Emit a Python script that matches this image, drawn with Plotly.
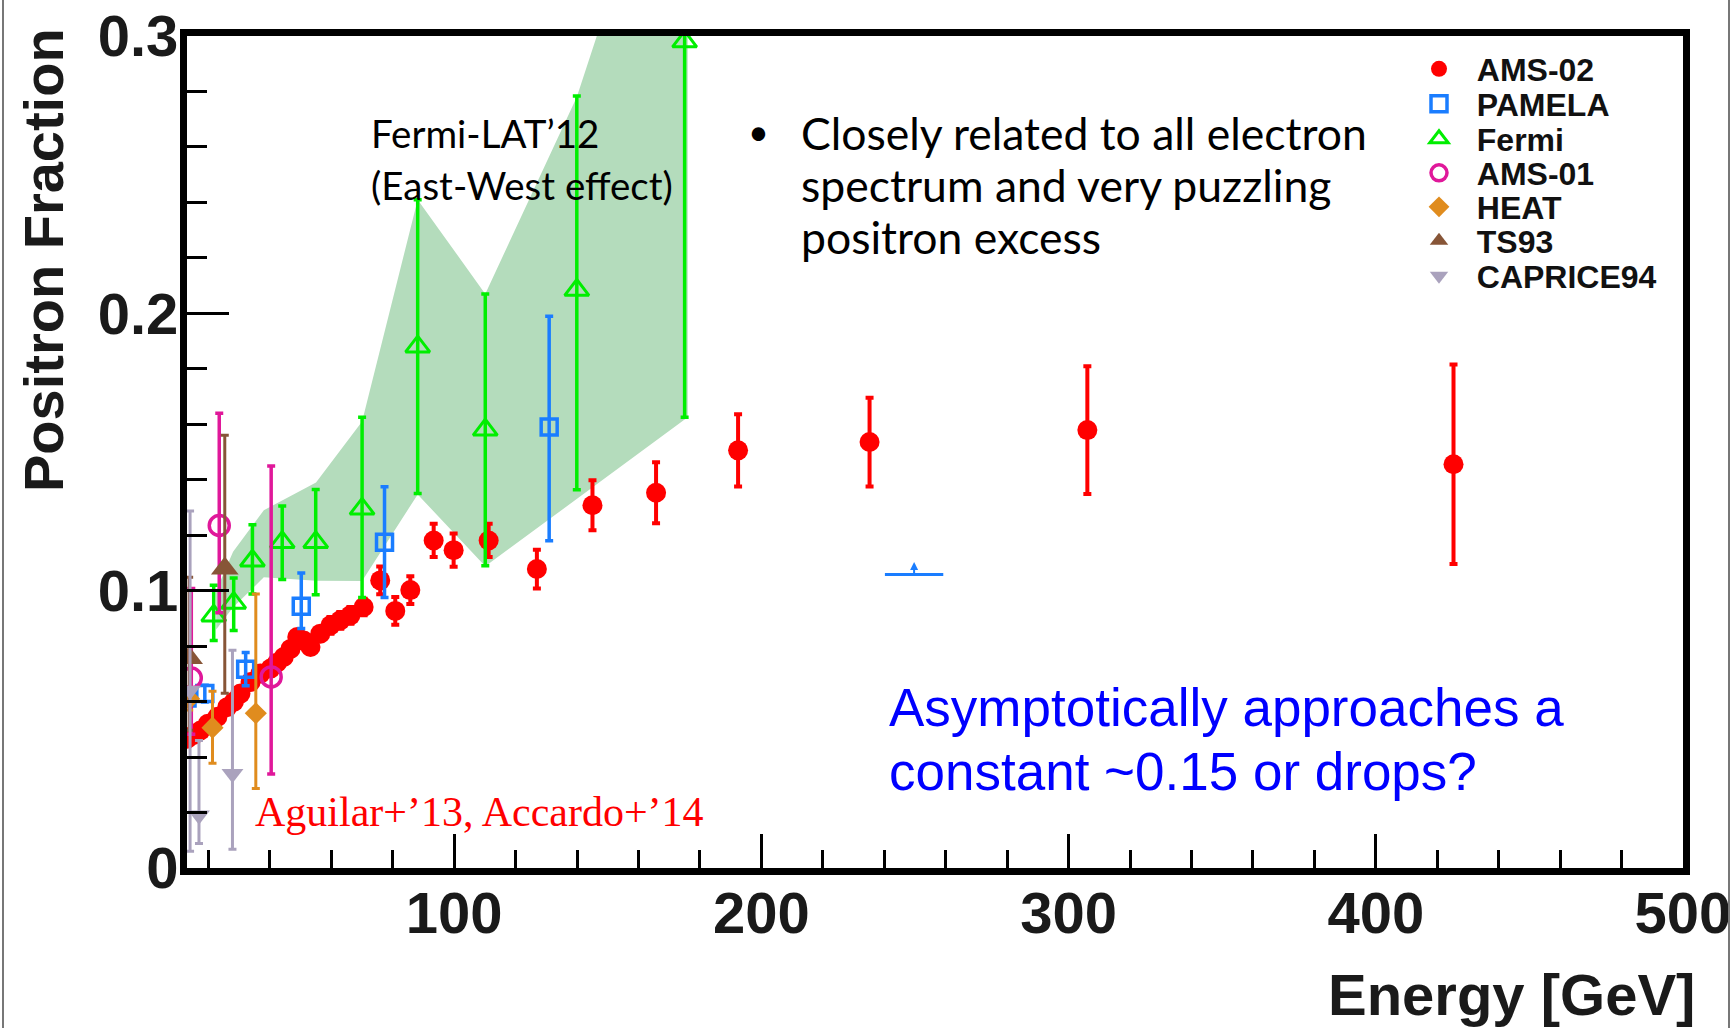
import plotly.graph_objects as go

# ---------------- data ----------------
ams02_E = [13.1, 15.2, 17.4, 19.8, 22.9, 26.1, 28.3, 30.4, 33.7, 36.9, 40.2, 42.3, 44.5, 46.7,
           48.9, 51.0, 53.2, 56.4, 59.7, 62.9, 66.2, 70.5, 75.9, 80.8, 85.7, 93.3, 99.8, 111.2,
           126.9, 145.0, 165.7, 192.4, 235.2, 306.1, 425.3]
ams02_y = [0.0466, 0.048, 0.0496, 0.052, 0.0545, 0.058, 0.060, 0.0629, 0.0671, 0.0701, 0.0719,
           0.074, 0.0761, 0.079, 0.0833, 0.082, 0.0797, 0.0845, 0.0875, 0.0893, 0.0911, 0.0941,
           0.1037, 0.0927, 0.1002, 0.1181, 0.1146, 0.1181, 0.1078, 0.1308, 0.1353, 0.1506,
           0.1536, 0.1579, 0.1456]
ams02_err = [0.002, 0.002, 0.002, 0.002, 0.002, 0.002, 0.002, 0.002, 0.002, 0.002, 0.002,
             0.002, 0.002, 0.002, 0.002, 0.002, 0.002, 0.002, 0.003, 0.003, 0.003, 0.003,
             0.005, 0.005, 0.005, 0.006, 0.006, 0.006, 0.007, 0.009, 0.011, 0.013, 0.016,
             0.023, 0.036]

pamela_E = [13.0, 18.8, 32.1, 50.2, 77.3, 130.9]
pamela_y = [0.0613, 0.0629, 0.0717, 0.0944, 0.1175, 0.159]
pamela_up = [0.003, 0.003, 0.006, 0.012, 0.020, 0.040]
pamela_dn = [0.003, 0.003, 0.006, 0.008, 0.020, 0.041]
pamela_limit_E = [249.7]
pamela_limit_y = [0.1058]
pamela_limit_halfwidth = [9.5]

fermi_E = [21.7, 28.2, 34.3, 44.0, 54.9, 70.0, 88.1, 110.1, 139.9, 175.0]
fermi_y = [0.091, 0.0956, 0.1108, 0.1175, 0.1175, 0.1295, 0.188, 0.158, 0.2084, 0.298]
fermi_up = [0.011, 0.009, 0.013, 0.013, 0.019, 0.033, 0.053, 0.049, 0.070, 0.060]
fermi_dn = [0.009, 0.010, 0.012, 0.0135, 0.019, 0.032, 0.053, 0.049, 0.072, 0.1355]

band_E = [22.5, 28.0, 38.0, 55.0, 70.0, 88.1, 110.1, 139.9, 176.0,
          176.0, 110.1, 88.1, 70.0, 55.0, 38.0, 28.0, 22.5]
band_y = [0.100, 0.114, 0.129, 0.139, 0.161, 0.241, 0.207, 0.278, 0.40,
          0.1625, 0.1088, 0.1347, 0.1035, 0.1036, 0.1048, 0.094, 0.086]

ams01_E = [14.4, 23.5, 40.4]
ams01_y = [0.0685, 0.1235, 0.0689]
ams01_up = [0.0323, 0.0405, 0.0761]
ams01_dn = [0.0203, 0.0315, 0.035]

heat_E = [13.7, 21.3, 35.4]
heat_y = [0.061, 0.0506, 0.0558]
heat_up = [0.004, 0.0131, 0.043]
heat_dn = [0.004, 0.0128, 0.0271]

ts93_E = [13.7, 25.3]
ts93_y = [0.0757, 0.108]
ts93_up = [0.0291, 0.048]
ts93_dn = [0.026, 0.045]

caprice_E = [14.0, 16.9, 27.8]
caprice_y = [0.064, 0.019, 0.034]
caprice_up = [0.0647, 0.027, 0.0445]
caprice_dn = [0.058, 0.0102, 0.0272]

series_names = ["AMS-02", "PAMELA", "Fermi", "AMS-01", "HEAT", "TS93", "CAPRICE94"]

fermi_note = ["Fermi-LAT’12", "(East-West effect)"]
bullet_lines = ["Closely related to all electron", "spectrum and very puzzling",
                "positron excess"]
question_lines = ["Asymptotically approaches a", "constant ~0.15 or drops?"]
refs_note = "Aguilar+’13, Accardo+’14"

# ---------------- styles ----------------
RED = "#ff0000"
BLUE = "#1a7dff"
GREEN = "#00ee00"
MAGENTA = "#e0189a"
ORANGE = "#e08c1e"
BROWN = "#875537"
GREY = "#aaa2bd"
BAND = "#b4dcbc"

BOLD_SANS = "Liberation Sans, Arial"
INK = "#1a1a1a"

def err(up, dn, color, th=3.5, w=4):
    return dict(type="data", symmetric=False, array=up, arrayminus=dn,
                color=color, thickness=th, width=w)

PAD = "\u00a0\u00a0"   # small gap between legend symbol and text

fig = go.Figure()

fig.add_trace(go.Scatter(x=band_E, y=band_y, fill="toself", fillcolor=BAND,
                         line=dict(width=0), mode="lines", showlegend=False,
                         hoverinfo="skip"))

fig.add_trace(go.Scatter(x=ams02_E, y=ams02_y, mode="markers", name=PAD + series_names[0],
                         legend="legend",
                         marker=dict(symbol="circle", size=20, color=RED),
                         error_y=dict(type="data", array=ams02_err, color=RED,
                                      thickness=4, width=4)))

fig.add_trace(go.Scatter(x=pamela_E, y=pamela_y, mode="markers", name=PAD + series_names[1],
                         legend="legend2",
                         marker=dict(symbol="square-open", size=16, color=BLUE,
                                     line=dict(width=3.5, color=BLUE)),
                         error_y=err(pamela_up, pamela_dn, BLUE)))

fig.add_trace(go.Scatter(x=pamela_limit_E, y=pamela_limit_y, mode="markers",
                         showlegend=False,
                         marker=dict(size=1, color=BLUE),
                         error_x=dict(type="data", array=pamela_limit_halfwidth,
                                      color=BLUE, thickness=3, width=0)))

fig.add_trace(go.Scatter(x=fermi_E, y=fermi_y, mode="markers", name=PAD + series_names[2],
                         legend="legend3",
                         marker=dict(symbol="triangle-up-open", size=21, color=GREEN,
                                     line=dict(width=3, color=GREEN)),
                         error_y=err(fermi_up, fermi_dn, GREEN)))

fig.add_trace(go.Scatter(x=ams01_E, y=ams01_y, mode="markers", name=PAD + series_names[3],
                         legend="legend4",
                         marker=dict(symbol="circle-open", size=20, color=MAGENTA,
                                     line=dict(width=3.5, color=MAGENTA)),
                         error_y=err(ams01_up, ams01_dn, MAGENTA)))

fig.add_trace(go.Scatter(x=heat_E, y=heat_y, mode="markers", name=PAD + series_names[4],
                         legend="legend5",
                         marker=dict(symbol="diamond", size=17, color=ORANGE),
                         error_y=err(heat_up, heat_dn, ORANGE, th=3)))

fig.add_trace(go.Scatter(x=ts93_E, y=ts93_y, mode="markers", name=PAD + series_names[5],
                         legend="legend6",
                         marker=dict(symbol="triangle-up", size=24, color=BROWN),
                         error_y=err(ts93_up, ts93_dn, BROWN, th=3)))

fig.add_trace(go.Scatter(x=caprice_E, y=caprice_y, mode="markers", name=PAD + series_names[6],
                         legend="legend7",
                         marker=dict(symbol="triangle-down", size=19, color=GREY),
                         error_y=err(caprice_up, caprice_dn, GREY, th=3)))

# ---------------- layout ----------------
L, R, T, B = 187, 49, 36, 160
W, H = 1732, 1028
pw, ph = W - L - R, H - T - B

def px(xp):
    return (xp - L) / pw

def py(yp):
    return 1 - (yp - T) / ph

axis_common = dict(showline=True, linewidth=7, linecolor="black", mirror=True,
                   ticks="inside", tickcolor="black", tickwidth=2.5,
                   showgrid=False, zeroline=False, automargin=False,
                   tickfont=dict(family=BOLD_SANS, size=58, color=INK, weight="bold"))

fig.update_xaxes(range=[13, 500.01], tick0=0, dtick=100, ticklen=34,
                 ticklabelstandoff=-12,
                 minor=dict(ticks="inside", ticklen=18, dtick=20, tick0=0,
                            tickwidth=2.5, tickcolor="black", showgrid=False),
                 **axis_common)
fig.update_yaxes(range=[0, 0.30001], tick0=0, dtick=0.1, ticklen=42,
                 ticklabelstandoff=-10,
                 minor=dict(ticks="inside", ticklen=20, dtick=0.02, tick0=0,
                            tickwidth=2.5, tickcolor="black", showgrid=False),
                 **axis_common)

def note(text, xp, yp, font, xanchor="left"):
    return dict(text=text, x=px(xp), y=py(yp), xref="paper", yref="paper",
                showarrow=False, xanchor=xanchor, yanchor="middle", font=font)

calibri_small = dict(family="Lato", size=38.5, color="black")
calibri_big = dict(family="Lato", size=44.5, color="black")
blue_font = dict(family="Liberation Sans, Arial", size=53, color="#0000ff")

annotations = [
    dict(text="Positron Fraction", textangle=-90, x=px(44), y=py(260),
         xref="paper", yref="paper", showarrow=False, xanchor="center", yanchor="middle",
         font=dict(family=BOLD_SANS, size=56, color=INK, weight="bold")),
    note("Energy [GeV]", 1697, 994, dict(family=BOLD_SANS, size=58, color=INK, weight="bold"),
         xanchor="right"),
    note(fermi_note[0], 369, 133, calibri_small),
    note(fermi_note[1], 369, 185, calibri_small),
    note("•", 758, 131, dict(family="Lato", size=36, color="black"), xanchor="center"),
    note(bullet_lines[0], 799, 133, calibri_big),
    note(bullet_lines[1], 799, 185, calibri_big),
    note(bullet_lines[2], 799, 237, calibri_big),
    note(question_lines[0], 887, 707, blue_font),
    note(question_lines[1], 887, 771, blue_font),
    note(refs_note, 253, 812, dict(family="Liberation Serif, Times New Roman", size=42,
                                   color="#ff0000")),
    dict(text="", x=pamela_limit_E[0], y=pamela_limit_y[0] + 0.0045, xref="x", yref="y",
         showarrow=True, ax=0, ay=13, arrowhead=2, arrowsize=0.8, arrowwidth=2,
         arrowcolor=BLUE),
]

shapes = [
    dict(type="line", xref="paper", yref="paper", x0=px(3), x1=px(3), y0=py(0), y1=py(1028),
         line=dict(color="#777777", width=2)),
    dict(type="line", xref="paper", yref="paper", x0=px(1729), x1=px(1729), y0=py(0),
         y1=py(1028), line=dict(color="#777777", width=2)),
]

# one single-entry legend per series so that rows sit at the reference spacing
legend_rows = [69, 104, 139, 173, 207, 241, 276]
legend_layouts = {}
for i, row in enumerate(legend_rows):
    key = "legend" if i == 0 else f"legend{i + 1}"
    legend_layouts[key] = dict(
        x=px(1419), y=py(row), xanchor="left", yanchor="middle",
        bgcolor="rgba(0,0,0,0)", borderwidth=0,
        font=dict(family="Liberation Sans, Arial", size=32, color="#111111", weight="bold"))

fig.update_layout(
    width=W, height=H,
    margin=dict(l=L, r=R, t=T, b=B),
    paper_bgcolor="white", plot_bgcolor="white",
    showlegend=True,
    annotations=annotations,
    shapes=shapes,
    **legend_layouts,
)

fig.write_html("out.html")
